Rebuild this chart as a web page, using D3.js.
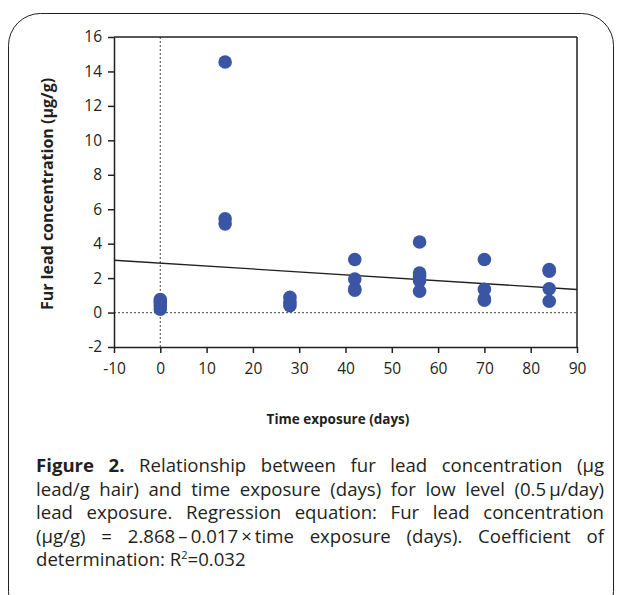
<!DOCTYPE html>
<html><head><meta charset="utf-8">
<script src="https://cdn.jsdelivr.net/npm/d3@7/dist/d3.min.js"></script>
<style>
body{margin:0;background:#fff;}
#wrap{position:relative;width:622px;height:595px;overflow:hidden;}
svg{position:absolute;left:0;top:0;}
#cap{position:absolute;left:36px;top:453px;width:568px;font-family:"Open Sans",sans-serif;font-size:18.6px;color:#231f20;line-height:23.6px;}
#cap .l{text-align:justify;text-align-last:justify;white-space:nowrap;}
#cap .last{text-align:left;white-space:nowrap;}
</style></head>
<body><div id="wrap"><svg id="chart" width="622" height="595"></svg><div id="cap"></div></div>
<script>
const days = [0,0,0,0, 14,14,14, 28,28,28, 42,42,42,42, 56,56,56,56,56, 70,70,70,70, 84,84,84,84];
const fur  = [0.2,0.4,0.6,0.75, 14.55,5.15,5.45, 0.4,0.6,0.88, 3.08,1.95,1.38,1.3, 4.1,2.3,2.1,1.85,1.24, 3.08,1.35,0.8,0.72, 2.5,2.4,1.38,0.66];
const xTicks = [-10,0,10,20,30,40,50,60,70,80,90];
const yTicks = [-2,0,2,4,6,8,10,12,14,16];
const intercept = 2.868, slope = -0.017;
const xLabel = "Time exposure (days)";
const yLabel = "Fur lead concentration (µg/g)";
const captionLines = [
  ["<b>Figure 2.</b> Relationship between fur lead concentration (µg", false],
  ["lead/g hair) and time exposure (days) for low level (0.5\u2009µ/day)", false],
  ["lead exposure. Regression equation: Fur lead concentration", false],
  ["(µg/g) = 2.868\u2009\u2013\u20090.017\u2009\u00d7\u2009time exposure (days). Coefficient of", false],
  ["determination: R<sup style='font-size:11px;line-height:0'>2</sup>=0.032", true]
];

const svg = d3.select("#chart");
svg.append("rect").attr("x",8.5).attr("y",13.5).attr("width",605).attr("height",610).attr("rx",32)
  .attr("fill","none").attr("stroke","#231f20").attr("stroke-width",1);

const L=114, R=577, T=37, B=347;
const x = d3.scaleLinear().domain([-10,90]).range([L,R]);
const y = d3.scaleLinear().domain([-2,16]).range([B,T]);
const font = "'Open Sans',sans-serif";

svg.append("line").attr("x1",x(0)).attr("x2",x(0)).attr("y1",T).attr("y2",B)
  .attr("stroke","#666").attr("stroke-dasharray","2,2").attr("stroke-width",1.2);
svg.append("line").attr("x1",L).attr("x2",R).attr("y1",y(0)).attr("y2",y(0))
  .attr("stroke","#666").attr("stroke-dasharray","2,2").attr("stroke-width",1.2);

svg.append("line").attr("x1",L).attr("x2",R).attr("y1",T).attr("y2",T).attr("stroke","#231f20").attr("stroke-width",1.5);
svg.append("line").attr("x1",R).attr("x2",R).attr("y1",T).attr("y2",B).attr("stroke","#231f20").attr("stroke-width",1.5);

const xa = svg.append("g").attr("transform",`translate(0,${B})`)
  .call(d3.axisBottom(x).tickValues(xTicks).tickSize(6).tickSizeOuter(0).tickPadding(10).tickFormat(d3.format("d")));
const ya = svg.append("g").attr("transform",`translate(${L},0)`)
  .call(d3.axisLeft(y).tickValues(yTicks).tickSize(6).tickSizeOuter(0).tickPadding(6).tickFormat(d3.format("d")));
[xa,ya].forEach(a=>{
  a.selectAll("path").attr("stroke","#231f20").attr("stroke-width",1.5);
  a.selectAll("line").attr("stroke","#231f20").attr("stroke-width",1.5);
  a.selectAll("text").attr("font-family",font).attr("font-size",15.5).attr("fill","#231f20");
});
xa.selectAll("text").text(d=>d<0? "-"+Math.abs(d): d);
ya.selectAll("text").text(d=>d<0? "-"+Math.abs(d): d);

svg.append("line").attr("x1",x(-10)).attr("y1",y(intercept+slope*-10))
  .attr("x2",x(90)).attr("y2",y(intercept+slope*90)).attr("stroke","#231f20").attr("stroke-width",1.3);

svg.append("g").selectAll("circle").data(days.map((d,i)=>[d,fur[i]])).join("circle")
  .attr("cx",d=>x(d[0])).attr("cy",d=>y(d[1])).attr("r",6.8).attr("fill","#3a55a4");

svg.append("text").attr("x",338).attr("y",424).attr("text-anchor","middle")
  .attr("font-family",font).attr("font-weight","bold").attr("font-size",13.5).attr("fill","#231f20").text(xLabel);
svg.append("text").attr("transform",`translate(53,194) rotate(-90)`).attr("text-anchor","middle")
  .attr("font-family",font).attr("font-weight","bold").attr("font-size",16).attr("fill","#231f20").text(yLabel);

d3.select("#cap").selectAll("div").data(captionLines).join("div")
  .attr("class",d=>d[1]?"last":"l").html(d=>d[0]);
</script></body></html>
